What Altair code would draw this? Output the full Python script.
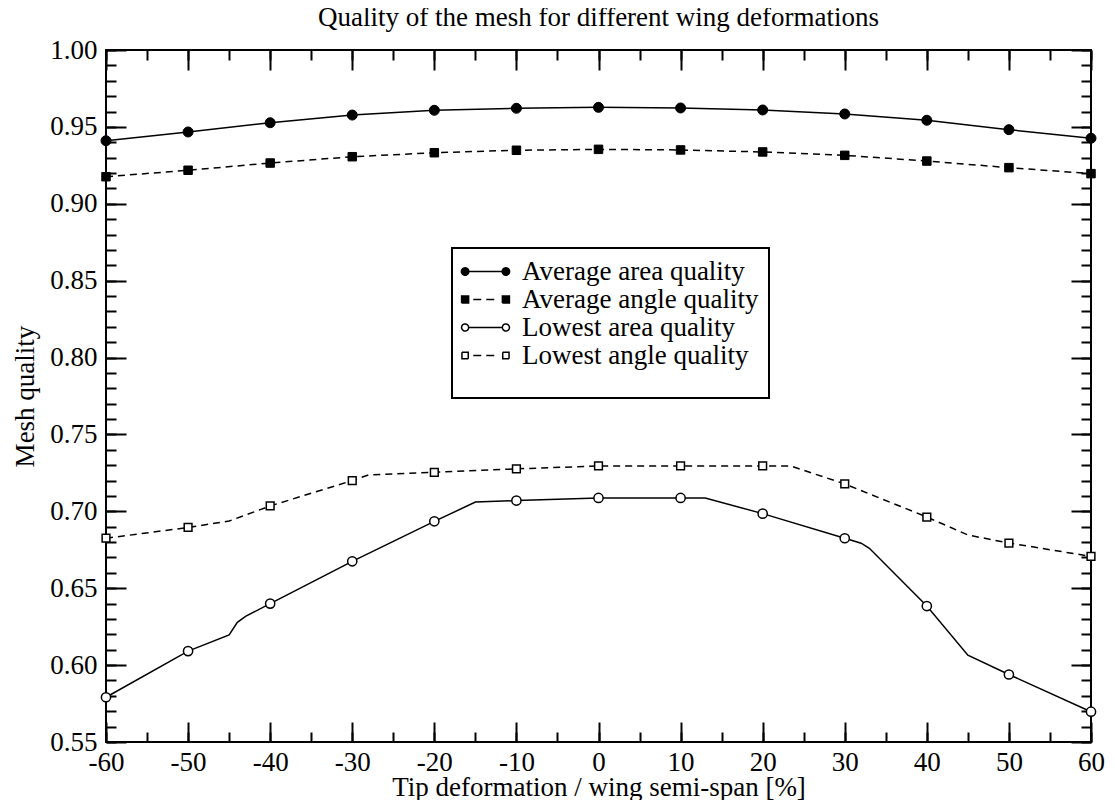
import altair as alt
import pandas as pd

# ---------------- data ----------------
SERIES = ["Average area quality", "Average angle quality",
          "Lowest area quality", "Lowest angle quality"]
X_MARK = [-60, -50, -40, -30, -20, -10, 0, 10, 20, 30, 40, 50, 60]
AVG_AREA = [0.9410, 0.9467, 0.9527, 0.9577, 0.9608, 0.9621, 0.9627,
            0.9623, 0.9610, 0.9584, 0.9543, 0.9482, 0.9426]
AVG_ANGLE = [0.9176, 0.9218, 0.9265, 0.9306, 0.9332, 0.9348, 0.9354,
             0.9350, 0.9337, 0.9315, 0.9278, 0.9235, 0.9196]
LOW_AREA = [0.5791, 0.6091, 0.6400, 0.6675, 0.6935, 0.7070, 0.7087,
            0.7087, 0.6985, 0.6825, 0.6384, 0.5939, 0.5697]
LOW_ANGLE = [0.6825, 0.6895, 0.7035, 0.7200, 0.7254, 0.7276, 0.7295,
             0.7295, 0.7295, 0.7178, 0.6963, 0.6794, 0.6707]
# curve points between the markers
LOW_AREA_EXTRA_X = [-45, -44, -43, -15, 13, 32, 33, 45]
LOW_AREA_EXTRA_Y = [0.6196, 0.6278, 0.6317, 0.7060, 0.7087, 0.6793, 0.6760, 0.6065]
LOW_ANGLE_EXTRA_X = [-45, -28, 23.4, 45]
LOW_ANGLE_EXTRA_Y = [0.6937, 0.7237, 0.7295, 0.6846]

X_TICKS_MAJOR = [-60, -50, -40, -30, -20, -10, 0, 10, 20, 30, 40, 50, 60]
X_TICKS_MINOR = list(range(-60, 61, 5))
Y_TICKS_MAJOR = [0.55, 0.60, 0.65, 0.70, 0.75, 0.80, 0.85, 0.90, 0.95, 1.00]
Y_TICKS_MINOR = [round(0.55 + 0.01 * i, 2) for i in range(46)]

rows = []
for name, ys in zip(SERIES, [AVG_AREA, AVG_ANGLE, LOW_AREA, LOW_ANGLE]):
    for x, y in zip(X_MARK, ys):
        rows.append({"x": x, "y": y, "series": name, "marker": True})
for x, y in zip(LOW_AREA_EXTRA_X, LOW_AREA_EXTRA_Y):
    rows.append({"x": x, "y": y, "series": SERIES[2], "marker": False})
for x, y in zip(LOW_ANGLE_EXTRA_X, LOW_ANGLE_EXTRA_Y):
    rows.append({"x": x, "y": y, "series": SERIES[3], "marker": False})
df = pd.DataFrame(rows)
df["kind"] = ["area" if "area" in s else "angle" for s in df["series"]]
df = df.sort_values(["series", "x"]).reset_index(drop=True)

# ---------------- layout ----------------
W, H = 985, 692
FONT = "Liberation Serif"
FS = 27

xs = alt.Scale(domain=[-60, 60], nice=False, zero=False)
ys = alt.Scale(domain=[0.55, 1.0], nice=False, zero=False)


def tick_axis(orient, offset, values, size):
    return alt.Axis(orient=orient, offset=offset, values=values, labels=False,
                    domain=False, grid=False, title=None, ticks=True,
                    tickSize=size, tickWidth=2, tickColor="black")


x_label_axis = alt.Axis(values=X_TICKS_MAJOR, ticks=False, tickSize=0, domain=False,
                        grid=False, labelPadding=7, labelFlush=False,
                        labelExpr="datum.value < 0 ? '-' + abs(datum.value) : '' + datum.value",
                        title="Tip deformation / wing semi-span [%]",
                        titleY=53, titleBaseline="alphabetic")
y_label_axis = alt.Axis(values=Y_TICKS_MAJOR, format=".2f", ticks=False, tickSize=0,
                        domain=False, grid=False, labelPadding=9, labelFlush=False,
                        title="Mesh quality", titleX=-73, titleBaseline="alphabetic")


def pos(chart, xaxis, yaxis):
    return chart.encode(
        x=alt.X("x:Q", scale=xs, axis=xaxis),
        y=alt.Y("y:Q", scale=ys, axis=yaxis),
    )


base = alt.Chart(df)

area_lines = pos(
    base.transform_filter("datum.kind == 'area'")
    .mark_line(color="black", strokeWidth=1.5)
    .encode(detail="series:N", order=alt.Order("x:Q")),
    x_label_axis, y_label_axis)

angle_lines = pos(
    base.transform_filter("datum.kind == 'angle'")
    .mark_line(color="black", strokeWidth=1.5, strokeDash=[7, 5])
    .encode(detail="series:N", order=alt.Order("x:Q")),
    tick_axis("top", -H, X_TICKS_MAJOR, 20),
    tick_axis("right", -W, Y_TICKS_MAJOR, 20))

pts_avg_area = pos(
    base.transform_filter(f"datum.marker && datum.series == '{SERIES[0]}'")
    .mark_point(shape="circle", filled=True, fill="black", stroke="black",
                strokeWidth=1, size=100, opacity=1),
    tick_axis("top", -H, X_TICKS_MINOR, 10),
    tick_axis("right", -W, Y_TICKS_MINOR, 10))

pts_avg_angle = pos(
    base.transform_filter(f"datum.marker && datum.series == '{SERIES[1]}'")
    .mark_point(shape="square", filled=True, fill="black", stroke="black",
                strokeWidth=1, size=72, opacity=1),
    tick_axis("bottom", -H, X_TICKS_MAJOR, 20),
    tick_axis("left", -W, Y_TICKS_MAJOR, 20))

pts_low_area = pos(
    base.transform_filter(f"datum.marker && datum.series == '{SERIES[2]}'")
    .mark_point(shape="circle", filled=True, fill="white", stroke="black",
                strokeWidth=1.5, size=85, opacity=1),
    tick_axis("bottom", -H, X_TICKS_MINOR, 10),
    tick_axis("left", -W, Y_TICKS_MINOR, 10))

pts_low_angle = pos(
    base.transform_filter(f"datum.marker && datum.series == '{SERIES[3]}'")
    .mark_point(shape="square", filled=True, fill="white", stroke="black",
                strokeWidth=1.5, size=60, opacity=1),
    None, None)


# ---------------- legend (marker - line - marker symbols) ----------------
def circle_path(cx, r):
    return (f"M{cx - r},0A{r},{r} 0 1 0 {cx + r},0"
            f"A{r},{r} 0 1 0 {cx - r},0Z")


def square_path(cx, h):
    closed = f"M{cx - h},{-h}L{cx + h},{-h}L{cx + h},{h}L{cx - h},{h}Z"
    sides = (f"M{cx - h},{-h}L{cx + h},{-h}M{cx + h},{-h}L{cx + h},{h}"
             f"M{cx + h},{h}L{cx - h},{h}M{cx - h},{h}L{cx - h},{-h}")
    return closed + sides


LEG_PATHS = [
    circle_path(-5.5, 1.0) + "M-4.5,0L4.5,0" + circle_path(5.5, 1.0),
    square_path(-5.5, 0.95) + "M-3.3,0L3.3,0" + square_path(5.5, 0.95),
    circle_path(-5.5, 0.95) + "M-4.55,0L4.55,0" + circle_path(5.5, 0.95),
    square_path(-5.5, 0.85) + "M-3.3,0L3.3,0" + square_path(5.5, 0.85),
]

leg = alt.Legend(title=" ", orient="none", legendX=346, legendY=198, padding=10,
                 strokeColor="black", fillColor="white", symbolSize=55,
                 symbolStrokeWidth=1.5, symbolStrokeColor="black",
                 symbolOffset=10, labelOffset=23, labelFont=FONT, labelFontSize=FS,
                 labelColor="black", labelLimit=500, rowPadding=0,
                 titleOrient="bottom", titleFontSize=14, titlePadding=5)

legend_layer = (
    base.transform_filter("false")
    .mark_point(filled=True, stroke="black", strokeWidth=1.5, size=55, opacity=1)
    .encode(
        shape=alt.Shape("series:N", scale=alt.Scale(domain=SERIES, range=LEG_PATHS), legend=leg),
        fill=alt.Fill("series:N", scale=alt.Scale(domain=SERIES,
                      range=["black", "black", "white", "white"]), legend=leg),
        stroke=alt.Stroke("series:N", scale=alt.Scale(domain=SERIES,
                          range=["black", "black", "black", "black"]), legend=leg),
        strokeDash=alt.StrokeDash("series:N", scale=alt.Scale(domain=SERIES,
                                  range=[[1, 0], [8, 5], [1, 0], [8, 5]]), legend=leg),
    )
)

chart = (
    alt.layer(area_lines, angle_lines, pts_avg_area, pts_avg_angle,
              pts_low_area, pts_low_angle, legend_layer)
    .resolve_axis(x="independent", y="independent")
    .properties(
        width=W, height=H,
        autosize=alt.AutoSizeParams(type="none"),
        padding={"left": 98, "top": 42, "right": 16, "bottom": 58},
        background="white",
        title=alt.TitleParams(
            "Quality of the mesh for different wing deformations",
            font=FONT, fontSize=FS, fontWeight="normal", color="black",
            anchor="middle", frame="group", baseline="alphabetic",
            offset=7, dy=24),
    )
    .configure_view(stroke="black", strokeWidth=2)
    .configure_axis(labelFont=FONT, titleFont=FONT, labelFontSize=FS,
                    titleFontSize=FS, labelColor="black", titleColor="black",
                    titleFontWeight="normal")
    .configure_legend(strokeWidth=2)
)

chart.save("out.html", embed_options={"renderer": "svg", "actions": False})
